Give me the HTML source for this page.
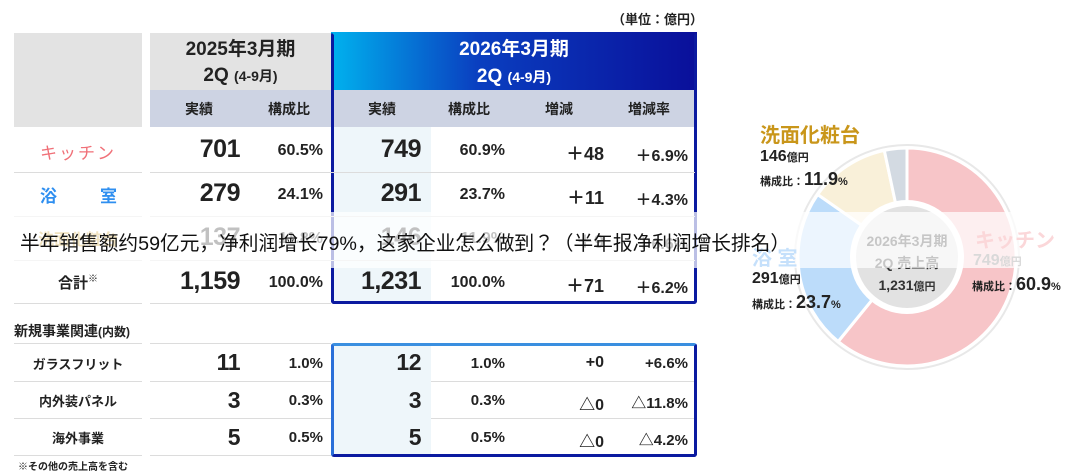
<!DOCTYPE html>
<html><head><meta charset="utf-8"><style>
body{margin:0;width:1080px;height:475px;background:#fff;overflow:hidden;position:relative;font-family:"Liberation Sans","Noto Sans CJK JP",sans-serif;color:#222}
.a{position:absolute;white-space:nowrap}
.r{text-align:right}
.c{text-align:center}
.b{font-weight:bold}
.big{font-size:25px;font-weight:bold;letter-spacing:-0.5px}
.pc{font-size:16px;font-weight:bold}
.line{position:absolute;height:1px;background:#dcdcdc}
</style></head><body>
<div class="a" style="left:612px;top:9px;font-size:13px;font-weight:bold">（単位：億円）</div>
<div class="a" style="left:14px;top:33px;width:128px;height:94px;background:#e3e3e3"></div>
<div class="a" style="left:150px;top:33px;width:181px;height:57px;background:#e3e3e3"></div>
<div class="a c b" style="left:150px;top:37px;width:181px;font-size:19px;line-height:26px">2025年3月期<br>2Q <span style="font-size:14px">(4-9月)</span></div>
<div class="a" style="left:150px;top:90px;width:547px;height:37px;background:#cdd3e3"></div>
<div class="a" style="left:331px;top:32px;width:366px;height:58px;background:linear-gradient(90deg,#00b2ee 0%,#0a3fc0 40%,#0a0f9a 100%)"></div>
<div class="a c b" style="left:331px;top:36px;width:366px;font-size:19px;line-height:27px;color:#fff">2026年3月期<br>2Q <span style="font-size:14px">(4-9月)</span></div>
<div class="a" style="left:333px;top:127px;width:98px;height:176px;background:#eef6fa"></div>
<div class="a" style="left:331px;top:32px;width:360px;height:266px;border:3px solid #0b1aa0;border-top-color:transparent;border-radius:3px"></div>
<div class="a c b" style="left:150px;top:99px;width:98px;font-size:14px">実績</div>
<div class="a c b" style="left:240px;top:99px;width:98px;font-size:14px">構成比</div>
<div class="a c b" style="left:333px;top:99px;width:98px;font-size:14px">実績</div>
<div class="a c b" style="left:420px;top:99px;width:98px;font-size:14px">構成比</div>
<div class="a c b" style="left:510px;top:99px;width:98px;font-size:14px">増減</div>
<div class="a c b" style="left:600px;top:99px;width:98px;font-size:14px">増減率</div>

<div class="line" style="left:14px;top:172px;width:128px"></div><div class="line" style="left:150px;top:172px;width:545px"></div>
<div class="line" style="left:14px;top:216px;width:128px"></div><div class="line" style="left:150px;top:216px;width:545px"></div>
<div class="line" style="left:14px;top:260px;width:128px"></div><div class="line" style="left:150px;top:260px;width:545px"></div>
<div class="line" style="left:14px;top:303px;width:128px"></div><div class="line" style="left:150px;top:303px;width:181px"></div>

<div class="a c" style="left:14px;top:139px;width:128px;font-size:17px;color:#f07078;letter-spacing:2px">キッチン</div>
<div class="a" style="left:40px;top:182px;font-size:17px;color:#2f8ff0;font-weight:bold">浴</div>
<div class="a" style="left:100px;top:182px;font-size:17px;color:#2f8ff0;font-weight:bold">室</div>
<div class="a c" style="left:14px;top:226px;width:128px;font-size:16px;color:#c9961a;font-weight:bold">洗面化粧台</div>
<div class="a c b" style="left:14px;top:270px;width:128px;font-size:15px">合計<sup style="font-size:10px">※</sup></div>

<div class="a r big" style="left:150px;top:135px;width:90px">701</div>
<div class="a r pc" style="left:240px;top:142px;width:83px">60.5%</div>
<div class="a r big" style="left:331px;top:135px;width:90px">749</div>
<div class="a r pc" style="left:420px;top:142px;width:85px">60.9%</div>
<div class="a r pc" style="left:510px;top:140px;width:94px;font-size:18px">＋48</div>
<div class="a r pc" style="left:600px;top:142px;width:88px">＋6.9%</div>

<div class="a r big" style="left:150px;top:179px;width:90px">279</div>
<div class="a r pc" style="left:240px;top:186px;width:83px">24.1%</div>
<div class="a r big" style="left:331px;top:179px;width:90px">291</div>
<div class="a r pc" style="left:420px;top:186px;width:85px">23.7%</div>
<div class="a r pc" style="left:510px;top:184px;width:94px;font-size:18px">＋11</div>
<div class="a r pc" style="left:600px;top:186px;width:88px">＋4.3%</div>

<div class="a r big" style="left:150px;top:223px;width:90px">137</div>
<div class="a r pc" style="left:240px;top:230px;width:83px">11.8%</div>
<div class="a r big" style="left:331px;top:223px;width:90px">146</div>
<div class="a r pc" style="left:420px;top:230px;width:85px">11.9%</div>
<div class="a r pc" style="left:510px;top:228px;width:94px;font-size:18px">＋9</div>
<div class="a r pc" style="left:600px;top:230px;width:88px">＋6.6%</div>

<div class="a r big" style="left:150px;top:267px;width:90px">1,159</div>
<div class="a r pc" style="left:240px;top:274px;width:83px">100.0%</div>
<div class="a r big" style="left:331px;top:267px;width:90px">1,231</div>
<div class="a r pc" style="left:420px;top:274px;width:85px">100.0%</div>
<div class="a r pc" style="left:510px;top:272px;width:94px;font-size:18px">＋71</div>
<div class="a r pc" style="left:600px;top:274px;width:88px">＋6.2%</div>

<div class="a b" style="left:14px;top:321px;font-size:14px">新規事業関連<span style="font-size:12px">(内数)</span></div>
<div class="line" style="left:14px;top:343px;width:128px"></div><div class="line" style="left:150px;top:343px;width:181px"></div>
<div class="line" style="left:14px;top:381px;width:128px"></div><div class="line" style="left:150px;top:381px;width:545px"></div>
<div class="line" style="left:14px;top:418px;width:128px"></div><div class="line" style="left:150px;top:418px;width:545px"></div>
<div class="line" style="left:14px;top:455px;width:128px"></div><div class="line" style="left:150px;top:455px;width:181px"></div>
<div class="a" style="left:333px;top:345px;width:98px;height:110px;background:#eef6fa"></div>
<div class="a" style="left:331px;top:343px;width:360px;height:108px;border:3px solid #0b1aa0;border-top-color:#3a8fe0;border-left-color:#2a6fd8;border-radius:3px"></div>

<div class="a c b" style="left:14px;top:354px;width:128px;font-size:13px">ガラスフリット</div>
<div class="a c b" style="left:14px;top:391px;width:128px;font-size:13px">内外装パネル</div>
<div class="a c b" style="left:14px;top:428px;width:128px;font-size:13px">海外事業</div>

<div class="a r big" style="left:150px;top:349px;width:90px;font-size:23px">11</div>
<div class="a r pc" style="left:240px;top:355px;width:83px;font-size:15px">1.0%</div>
<div class="a r big" style="left:331px;top:349px;width:90px;font-size:23px">12</div>
<div class="a r pc" style="left:420px;top:355px;width:85px;font-size:15px">1.0%</div>
<div class="a r pc" style="left:510px;top:354px;width:94px">+0</div>
<div class="a r pc" style="left:600px;top:355px;width:88px;font-size:15px">+6.6%</div>

<div class="a r big" style="left:150px;top:387px;width:90px;font-size:23px">3</div>
<div class="a r pc" style="left:240px;top:392px;width:83px;font-size:15px">0.3%</div>
<div class="a r big" style="left:331px;top:387px;width:90px;font-size:23px">3</div>
<div class="a r pc" style="left:420px;top:392px;width:85px;font-size:15px">0.3%</div>
<div class="a r pc" style="left:510px;top:391px;width:94px">△0</div>
<div class="a r pc" style="left:600px;top:392px;width:88px;font-size:15px">△11.8%</div>

<div class="a r big" style="left:150px;top:424px;width:90px;font-size:23px">5</div>
<div class="a r pc" style="left:240px;top:429px;width:83px;font-size:15px">0.5%</div>
<div class="a r big" style="left:331px;top:424px;width:90px;font-size:23px">5</div>
<div class="a r pc" style="left:420px;top:429px;width:85px;font-size:15px">0.5%</div>
<div class="a r pc" style="left:510px;top:428px;width:94px">△0</div>
<div class="a r pc" style="left:600px;top:429px;width:88px;font-size:15px">△4.2%</div>
<div class="a b" style="left:18px;top:458px;font-size:10px">※その他の売上高を含む</div>

<svg class="a" style="left:0;top:0" width="1080" height="475">
<circle cx="907" cy="257" r="112" fill="#fff" stroke="#e8e8e8" stroke-width="2"/>
<g stroke="#fff" stroke-width="3">
<path d="M907,257 L907,148 A109,109 0 1 1 838.2,341.5 Z" fill="#f7c5c8"/>
<path d="M907,257 L838.2,341.5 A109,109 0 0 1 817.7,194.5 Z" fill="#bcdcfa"/>
<path d="M907,257 L817.7,194.5 A109,109 0 0 1 884.3,150.4 Z" fill="#f9f0d9"/>
<path d="M907,257 L884.3,150.4 A109,109 0 0 1 907,148 Z" fill="#d3dae2"/>
</g>
<circle cx="907" cy="257" r="57" fill="#fff"/>
<circle cx="907" cy="257" r="51" fill="#e2e2e2"/>
</svg>
<div class="a c b" style="left:847px;top:230px;width:120px;font-size:14px;color:#333;line-height:22px">2026年3月期<br>2Q 売上高<br>1,231<span style="font-size:11px">億円</span></div>

<div class="a b" style="left:760px;top:119px;font-size:20px;color:#c9961a">洗面化粧台</div>
<div class="a b" style="left:760px;top:148px;font-size:16px">146<span style="font-size:11px">億円</span></div>
<div class="a b" style="left:760px;top:169px;font-size:11px">構成比：<span style="font-size:18px">11.9</span>%</div>
<div class="a b" style="left:752px;top:242px;font-size:20px;color:#2f8ff0">浴 室</div>
<div class="a b" style="left:752px;top:270px;font-size:16px">291<span style="font-size:11px">億円</span></div>
<div class="a b" style="left:752px;top:292px;font-size:11px">構成比：<span style="font-size:18px">23.7</span>%</div>
<div class="a b" style="left:975px;top:224px;font-size:20px;color:#f07078">キッチン</div>
<div class="a b" style="left:973px;top:252px;font-size:16px;color:#777">749<span style="font-size:11px">億円</span></div>
<div class="a b" style="left:972px;top:274px;font-size:11px">構成比：<span style="font-size:18px">60.9</span>%</div>

<div class="a" style="left:0;top:212px;width:1080px;height:56px;background:rgba(255,255,255,0.72)"></div>
<div class="a" style="left:20px;top:227px;font-size:19.7px;color:#111">半年销售额约59亿元，净利润增长79%，这家企业怎么做到？（半年报净利润增长排名）</div>
</body></html>
